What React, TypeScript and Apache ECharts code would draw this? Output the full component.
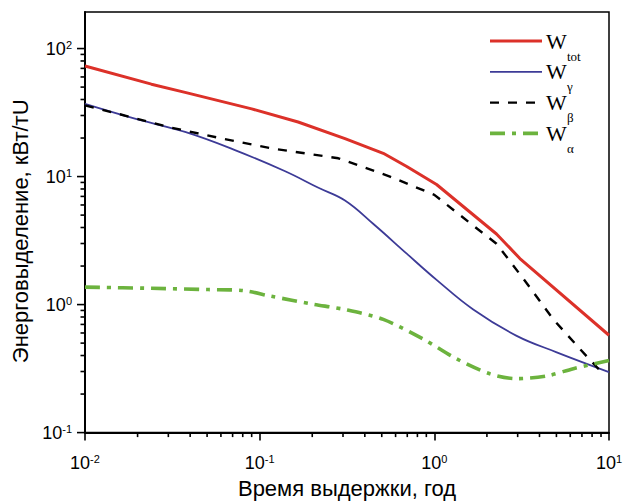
import React, { useEffect, useRef } from 'react';
import * as echarts from 'echarts';

// ---- data ----
const seriesNames = ['Wtot', 'Wγ', 'Wβ', 'Wα'];
const legendSubs = ['tot', 'γ', 'β', 'α'];

const totTime = [0.01, 0.024, 0.0374, 0.09, 0.166, 0.308, 0.51, 0.695, 1.03, 2.27, 3.09, 10];
const totValue = [73, 52.7, 45.5, 33.8, 26.7, 19.8, 15.2, 12, 8.67, 3.56, 2.29, 0.576];

const gammaTime = [0.01, 0.0193, 0.0374, 0.0722, 0.14, 0.217, 0.308, 0.448, 0.695, 1.03, 1.67, 2.96, 5.02, 10];
const gammaValue = [36.9, 28.3, 22.3, 16.1, 11, 8.17, 6.5, 4.26, 2.5, 1.56, 0.915, 0.57, 0.424, 0.297];

const betaTime = [0.01, 0.0155, 0.03, 0.058, 0.117, 0.282, 0.557, 1.0, 1.67, 2.27, 3.38, 4.8, 6.82, 9.3];
const betaValue = [36, 30.9, 24.4, 20.1, 16.6, 13.9, 10.0, 7.2, 4.14, 2.99, 1.47, 0.766, 0.45, 0.285];

const alphaTime = [0.01, 0.024, 0.0508, 0.0789, 0.117, 0.199, 0.308, 0.51, 0.865, 1.34, 2.08, 2.96, 4.4, 6.25, 10];
const alphaValue = [1.37, 1.34, 1.31, 1.29, 1.16, 1.01, 0.915, 0.766, 0.537, 0.377, 0.288, 0.264, 0.277, 0.316, 0.366];

const xExponents = [-2, -1, 0, 1];
const yExponents = [-1, 0, 1, 2];

const xAxisTitle = 'Время выдержки, год';
const yAxisTitle = 'Энерговыделение, кВт/тU';

const X_MIN = 0.01;
const X_MAX = 10;
const Y_MIN = 0.1;
const Y_MAX = 193;

// ---- styles ----
const colors = ['#dc3129', '#3d3b97', '#000000', '#6cb33e'];
const widths = [3, 1.8, 2.4, 3.6];
const dashes: any[] = ['solid', 'solid', [9, 9], [15, 7, 4, 7]];
const sans = '"Liberation Sans", Arial, sans-serif';
const serif = '"Liberation Serif", "Times New Roman", serif';

function zip(a: number[], b: number[]) {
  return a.map((t, i) => [t, b[i]]);
}

function ticks(exps: number[], lo: number, hi: number) {
  const major: number[] = [];
  const minor: number[] = [];
  exps.forEach((e) => {
    const base = Math.pow(10, e);
    if (base >= lo * 0.999 && base <= hi * 1.001) major.push(base);
    for (let k = 2; k <= 9; k++) {
      const v = k * base;
      if (v > lo && v < hi) minor.push(v);
    }
  });
  return { major, minor };
}

function powLabel(v: number) {
  const e = Math.round(Math.log10(v));
  if (Math.abs(Math.pow(10, e) - v) / v > 0.01) return '';
  return '{b|10}{s|' + e + '}';
}

const labelRich = {
  b: { fontSize: 18, fontFamily: sans, color: '#000' },
  s: { fontSize: 11, fontFamily: sans, color: '#000', padding: [0, 0, 8, 0] },
};

export default function App() {
  const ref = useRef<HTMLDivElement>(null);

  useEffect(() => {
    if (!ref.current) return;
    const chart = echarts.init(ref.current, undefined, { renderer: 'svg' });

    const xt = ticks(xExponents, X_MIN, X_MAX);
    const yt = ticks(yExponents, Y_MIN, Y_MAX);

    const seriesData = [
      zip(totTime, totValue),
      zip(gammaTime, gammaValue),
      zip(betaTime, betaValue),
      zip(alphaTime, alphaValue),
    ];

    const lineSeries = seriesData.map((d, i) => ({
      name: seriesNames[i],
      type: 'line',
      data: d,
      symbol: 'none',
      showSymbol: false,
      smooth: i === 1 ? 0.4 : i === 3 ? 0.3 : false,
      z: 3,
      lineStyle: { color: colors[i], width: widths[i], type: dashes[i], cap: 'butt' },
    }));

    const legendTop = 41;
    const legendStep = 30.8;
    const graphics: any[] = [];
    seriesNames.forEach((_n, i) => {
      const y = legendTop + i * legendStep;
      graphics.push({
        type: 'line',
        shape: { x1: 490, y1: y, x2: 542, y2: y },
        style: {
          stroke: colors[i],
          lineWidth: widths[i],
          lineDash: Array.isArray(dashes[i]) ? dashes[i] : null,
        },
      });
      graphics.push({
        type: 'text',
        x: 546,
        y: y,
        style: { text: 'W', font: '22px ' + serif, fill: '#000', verticalAlign: 'middle', align: 'left' },
      });
      graphics.push({
        type: 'text',
        x: 567,
        y: y + 15,
        style: { text: legendSubs[i], font: '13px ' + serif, fill: '#000', verticalAlign: 'middle', align: 'left' },
      });
    });

    chart.setOption({
      animation: false,
      backgroundColor: '#fff',
      grid: {
        left: 85,
        top: 12,
        right: 17,
        bottom: 66,
        show: true,
        borderColor: '#000',
        borderWidth: 1.5,
        backgroundColor: 'transparent',
      },
      xAxis: {
        type: 'log',
        logBase: 10,
        min: X_MIN,
        max: X_MAX,
        name: xAxisTitle,
        nameLocation: 'middle',
        nameGap: 43,
        nameTextStyle: { fontSize: 22, fontFamily: sans, color: '#000' },
        axisLine: { show: true, lineStyle: { color: '#000', width: 2 } },
        axisTick: { show: true, inside: false, length: 8, lineStyle: { color: '#000', width: 1.6 } },
        splitLine: { show: false },
        axisLabel: { margin: 21, formatter: powLabel, rich: labelRich },
      },
      yAxis: {
        type: 'log',
        logBase: 10,
        min: Y_MIN,
        max: Y_MAX,
        name: yAxisTitle,
        nameLocation: 'middle',
        nameGap: 51,
        nameTextStyle: { fontSize: 22, fontFamily: sans, color: '#000', padding: [0, 18, 0, 0] },
        axisLine: { show: true, lineStyle: { color: '#000', width: 2 } },
        axisTick: { show: false },
        splitLine: { show: false },
        axisLabel: { margin: 13, formatter: powLabel, rich: labelRich },
      },
      series: lineSeries,
      graphic: graphics,
    });

    // axis ticks (major and minor), placed through the chart's own log scales
    const tickEls: any[] = [];
    const yBase = Number(chart.convertToPixel({ yAxisIndex: 0 }, Y_MIN));
    const xBase = Number(chart.convertToPixel({ xAxisIndex: 0 }, X_MIN));
    const addX = (vals: number[], len: number) =>
      vals.forEach((v) => {
        const px = Number(chart.convertToPixel({ xAxisIndex: 0 }, v));
        tickEls.push({
          type: 'line',
          z: 100,
          shape: { x1: px, y1: yBase, x2: px, y2: yBase + len },
          style: { stroke: '#000', lineWidth: 1.6 },
        });
      });
    const addY = (vals: number[], len: number) =>
      vals.forEach((v) => {
        const py = Number(chart.convertToPixel({ yAxisIndex: 0 }, v));
        tickEls.push({
          type: 'line',
          z: 100,
          shape: { x1: xBase - len, y1: py, x2: xBase, y2: py },
          style: { stroke: '#000', lineWidth: 1.6 },
        });
      });
    addX(xt.minor, 4.5);
    addY(yt.major, 8);
    addY(yt.minor, 4.5);

    chart.setOption({ graphic: [...graphics, ...tickEls] });

    return () => chart.dispose();
  }, []);

  return (
    <div
      ref={ref}
      style={{ position: 'absolute', left: 0, top: 0, width: 626, height: 504, background: '#fff' }}
    />
  );
}
